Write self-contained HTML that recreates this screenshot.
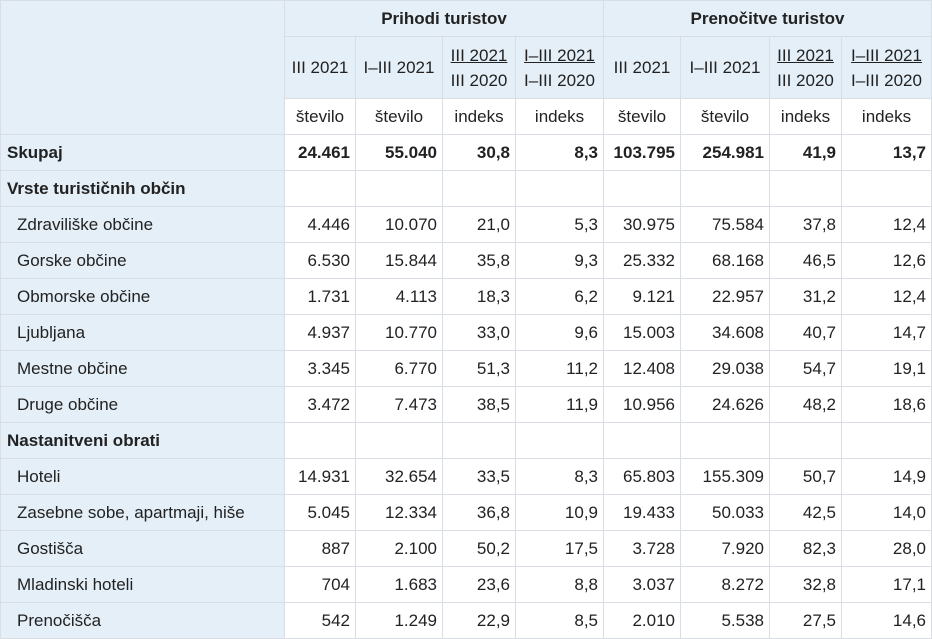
<!DOCTYPE html><html><head><meta charset="utf-8"><style>
body{margin:0;background:#fff;font-family:"Liberation Sans",Arial,sans-serif;font-size:17px;color:#222}
table{border-collapse:collapse;table-layout:fixed;width:931px}
td,th{border:1px solid #d9dee4;padding:0 5px;height:35px;white-space:nowrap;overflow:hidden}
th{font-weight:normal;background:#e4eff8;text-align:center;line-height:25px}
th.g{font-weight:bold}
td{text-align:right}
td.l{text-align:left;background:#e4eff8;padding-left:16px}
td.h{text-align:left;background:#e4eff8;font-weight:bold;padding-left:6px}
tr.b td{font-weight:bold}
th.w{background:#fff}
.u{text-decoration:underline}
</style></head><body>
<table>
<colgroup><col style="width:284px"><col style="width:71px"><col style="width:87px"><col style="width:73px"><col style="width:88px"><col style="width:77px"><col style="width:89px"><col style="width:72px"><col style="width:90px"></colgroup>
<tr><th rowspan="3"></th><th class="g" colspan="4">Prihodi turistov</th><th class="g" colspan="4">Prenočitve turistov</th></tr>
<tr style="height:62px"><th style="height:61px">III 2021</th><th>I–III 2021</th><th><span class="u">III 2021</span><br>III 2020</th><th><span class="u">I–III 2021</span><br>I–III 2020</th><th>III 2021</th><th>I–III 2021</th><th><span class="u">III 2021</span><br>III 2020</th><th><span class="u">I–III 2021</span><br>I–III 2020</th></tr>
<tr><th class="w">število</th><th class="w">število</th><th class="w">indeks</th><th class="w">indeks</th><th class="w">število</th><th class="w">število</th><th class="w">indeks</th><th class="w">indeks</th></tr>
<tr class="b"><td class="h">Skupaj</td><td>24.461</td><td>55.040</td><td>30,8</td><td>8,3</td><td>103.795</td><td>254.981</td><td>41,9</td><td>13,7</td></tr>
<tr><td class="h">Vrste turističnih občin</td><td></td><td></td><td></td><td></td><td></td><td></td><td></td><td></td></tr>
<tr><td class="l">Zdraviliške občine</td><td>4.446</td><td>10.070</td><td>21,0</td><td>5,3</td><td>30.975</td><td>75.584</td><td>37,8</td><td>12,4</td></tr>
<tr><td class="l">Gorske občine</td><td>6.530</td><td>15.844</td><td>35,8</td><td>9,3</td><td>25.332</td><td>68.168</td><td>46,5</td><td>12,6</td></tr>
<tr><td class="l">Obmorske občine</td><td>1.731</td><td>4.113</td><td>18,3</td><td>6,2</td><td>9.121</td><td>22.957</td><td>31,2</td><td>12,4</td></tr>
<tr><td class="l">Ljubljana</td><td>4.937</td><td>10.770</td><td>33,0</td><td>9,6</td><td>15.003</td><td>34.608</td><td>40,7</td><td>14,7</td></tr>
<tr><td class="l">Mestne občine</td><td>3.345</td><td>6.770</td><td>51,3</td><td>11,2</td><td>12.408</td><td>29.038</td><td>54,7</td><td>19,1</td></tr>
<tr><td class="l">Druge občine</td><td>3.472</td><td>7.473</td><td>38,5</td><td>11,9</td><td>10.956</td><td>24.626</td><td>48,2</td><td>18,6</td></tr>
<tr><td class="h">Nastanitveni obrati</td><td></td><td></td><td></td><td></td><td></td><td></td><td></td><td></td></tr>
<tr><td class="l">Hoteli</td><td>14.931</td><td>32.654</td><td>33,5</td><td>8,3</td><td>65.803</td><td>155.309</td><td>50,7</td><td>14,9</td></tr>
<tr><td class="l">Zasebne sobe, apartmaji, hiše</td><td>5.045</td><td>12.334</td><td>36,8</td><td>10,9</td><td>19.433</td><td>50.033</td><td>42,5</td><td>14,0</td></tr>
<tr><td class="l">Gostišča</td><td>887</td><td>2.100</td><td>50,2</td><td>17,5</td><td>3.728</td><td>7.920</td><td>82,3</td><td>28,0</td></tr>
<tr><td class="l">Mladinski hoteli</td><td>704</td><td>1.683</td><td>23,6</td><td>8,8</td><td>3.037</td><td>8.272</td><td>32,8</td><td>17,1</td></tr>
<tr><td class="l">Prenočišča</td><td>542</td><td>1.249</td><td>22,9</td><td>8,5</td><td>2.010</td><td>5.538</td><td>27,5</td><td>14,6</td></tr>
</table>
</body></html>
